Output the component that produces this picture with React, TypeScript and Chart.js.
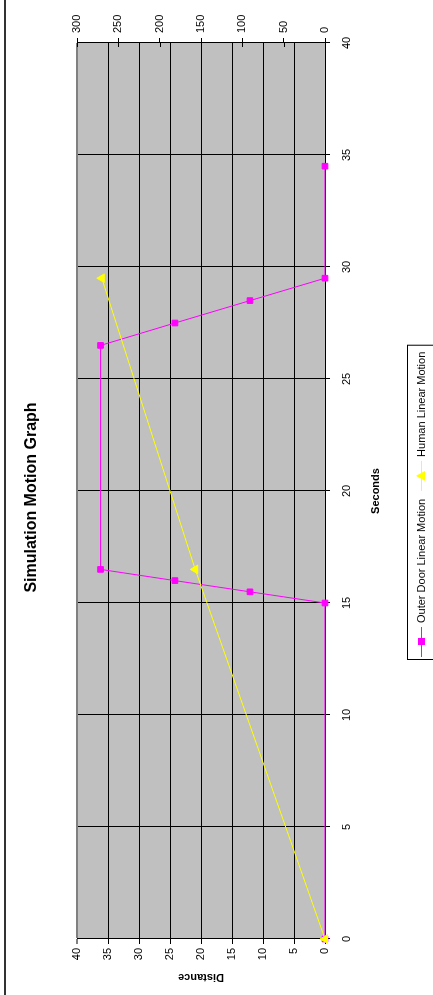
import React, { useEffect, useRef } from "react";
import { Chart, registerables } from "chart.js";

Chart.register(...registerables);

const W = 995;
const H = 433;

const TITLE = "Simulation Motion Graph";
const X_TITLE = "Seconds";
const Y_TITLE = "Distance";
const DOOR_LABEL = "Outer Door Linear Motion";
const HUMAN_LABEL = "Human Linear Motion";

const doorSeconds = [0, 15, 15.5, 16, 16.5, 26.5, 27.5, 28.5, 29.5, 34.5];
const doorDistance = [0, 0, 12.1, 24.2, 36.2, 36.2, 24.2, 12.1, 0, 0];
const humanSeconds = [0, 16.5, 29.5];
const humanDistance = [0, 157, 270];

const secondsTicks = [0, 5, 10, 15, 20, 25, 30, 35, 40];
const distanceTicks = [0, 5, 10, 15, 20, 25, 30, 35, 40];
const secondaryTicks = [0, 50, 100, 150, 200, 250, 300];

const FONT = "'Liberation Sans', Arial, sans-serif";
const DOOR_COLOR = "#FF00FF";
const HUMAN_COLOR = "#FFFF00";

const decor = {
  id: "decor",
  beforeDraw(chart: any) {
    const { ctx, chartArea: a } = chart;
    ctx.save();
    ctx.fillStyle = "#ffffff";
    ctx.fillRect(0, 0, W, H);
    ctx.fillStyle = "#C0C0C0";
    ctx.fillRect(a.left, a.top, a.right - a.left, a.bottom - a.top);
    ctx.restore();
  },
  beforeDatasetsDraw(chart: any) {
    // inner half of the crossing tick marks on the secondary axis
    const { ctx } = chart;
    const s = chart.scales.y2;
    ctx.save();
    ctx.strokeStyle = "#000";
    ctx.lineWidth = 1;
    ctx.beginPath();
    s.ticks.forEach((t: any) => {
      const y = Math.round(s.getPixelForValue(t.value)) + 0.5;
      ctx.moveTo(s.left - 4, y);
      ctx.lineTo(s.left, y);
    });
    ctx.stroke();
    ctx.restore();
  },
  afterDraw(chart: any) {
    const { ctx } = chart;
    ctx.save();
    // outer border
    ctx.strokeStyle = "#333333";
    ctx.lineWidth = 2;
    ctx.beginPath();
    ctx.moveTo(0, 5);
    ctx.lineTo(W, 5);
    ctx.stroke();

    // title
    ctx.fillStyle = "#000";
    ctx.font = `bold 16px ${FONT}`;
    ctx.textAlign = "center";
    ctx.textBaseline = "middle";
    ctx.fillText(TITLE, W / 2, 32);

    // legend
    ctx.font = `11px ${FONT}`;
    ctx.textAlign = "left";
    const lx = 335;
    const ly = 407;
    const cy = 421;
    let x = lx + 3;
    ctx.strokeStyle = DOOR_COLOR;
    ctx.lineWidth = 1;
    ctx.beginPath();
    ctx.moveTo(x, cy + 0.5);
    ctx.lineTo(x + 30, cy + 0.5);
    ctx.stroke();
    ctx.fillStyle = DOOR_COLOR;
    ctx.fillRect(x + 12, cy - 3, 7, 7);
    x += 34;
    ctx.fillStyle = "#000";
    ctx.fillText(DOOR_LABEL, x, cy + 1);
    x += ctx.measureText(DOOR_LABEL).width + 8;
    ctx.strokeStyle = HUMAN_COLOR;
    ctx.beginPath();
    ctx.moveTo(x, cy + 0.5);
    ctx.lineTo(x + 30, cy + 0.5);
    ctx.stroke();
    ctx.fillStyle = HUMAN_COLOR;
    ctx.beginPath();
    ctx.moveTo(x + 15, cy - 5);
    ctx.lineTo(x + 20, cy + 4);
    ctx.lineTo(x + 10, cy + 4);
    ctx.closePath();
    ctx.fill();
    x += 34;
    ctx.fillStyle = "#000";
    ctx.fillText(HUMAN_LABEL, x, cy + 1);
    x += ctx.measureText(HUMAN_LABEL).width + 6;
    ctx.strokeStyle = "#000";
    ctx.lineWidth = 1;
    ctx.strokeRect(lx + 0.5, ly + 0.5, x - lx, 40);
    ctx.restore();
  },
};

export default function App() {
  const ref = useRef<HTMLCanvasElement>(null);

  useEffect(() => {
    Chart.defaults.font.family = FONT;
    const chart = new Chart(ref.current as HTMLCanvasElement, {
      type: "line",
      data: {
        datasets: [
          {
            label: DOOR_LABEL,
            data: doorSeconds.map((s, i) => ({ x: s, y: doorDistance[i] })),
            borderColor: DOOR_COLOR,
            backgroundColor: DOOR_COLOR,
            borderWidth: 1,
            pointStyle: "rect",
            pointRadius: 4,
            pointBorderWidth: 1,
            tension: 0,
            yAxisID: "y",
            order: 1,
            clip: false,
          } as any,
          {
            label: HUMAN_LABEL,
            data: humanSeconds.map((s, i) => ({ x: s, y: humanDistance[i] })),
            borderColor: HUMAN_COLOR,
            backgroundColor: HUMAN_COLOR,
            borderWidth: 1,
            pointStyle: "triangle",
            pointRadius: 5,
            pointBorderWidth: 1,
            tension: 0,
            yAxisID: "y2",
            order: 0,
            clip: false,
          } as any,
        ],
      },
      options: {
        responsive: false,
        devicePixelRatio: 1,
        animation: false,
        events: [],
        layout: { padding: { top: 77, bottom: 48, left: 0, right: 0 } },
        plugins: {
          legend: { display: false },
          title: { display: false },
          tooltip: { enabled: false },
        },
        scales: {
          x: {
            type: "linear",
            position: "bottom",
            min: 0,
            max: 40,
            afterBuildTicks: (s: any) => {
              s.ticks = secondsTicks.map((value) => ({ value }));
            },
            afterFit: (s: any) => {
              s.height = 60;
            },
            ticks: {
              color: "#000",
              font: { size: 11 },
              padding: 10,
              maxRotation: 0,
              autoSkip: false,
            },
            grid: { color: "#000", lineWidth: 1, tickLength: 5 },
            border: { color: "#000", width: 1 },
            title: {
              display: true,
              text: X_TITLE,
              color: "#000",
              font: { size: 11, weight: "bold" },
              padding: { top: 0, bottom: 2 },
            },
          },
          y: {
            type: "linear",
            position: "left",
            min: 0,
            max: 40,
            afterBuildTicks: (s: any) => {
              s.ticks = distanceTicks.map((value) => ({ value }));
            },
            afterFit: (s: any) => {
              s.width = 56;
            },
            ticks: { color: "#000", font: { size: 11 }, padding: 4 },
            grid: {
              color: (c: any) => (c.tick && c.tick.value === 40 ? "#808080" : "#000"),
              lineWidth: (c: any) => (c.tick && c.tick.value === 40 ? 2 : 1),
              tickLength: 5,
            },
            border: { color: "#000", width: 1 },
            title: {
              display: true,
              text: Y_TITLE,
              color: "#000",
              font: { size: 11, weight: "bold" },
              padding: { top: 11, bottom: 0 },
            },
          },
          y2: {
            type: "linear",
            position: "right",
            min: 0,
            max: 300,
            afterBuildTicks: (s: any) => {
              s.ticks = secondaryTicks.map((value) => ({ value }));
            },
            afterFit: (s: any) => {
              s.width = 43;
            },
            ticks: { color: "#000", font: { size: 11 }, padding: 5 },
            grid: { drawOnChartArea: false, color: "#000", tickLength: 5 },
            border: { color: "#000", width: 1 },
          },
        },
      } as any,
      plugins: [decor],
    });
    return () => chart.destroy();
  }, []);

  return (
    <div
      style={{
        position: "fixed",
        left: 0,
        top: 0,
        width: 433,
        height: 995,
        overflow: "hidden",
        background: "#fff",
      }}
    >
      <div
        style={{
          position: "absolute",
          left: 0,
          top: 0,
          width: W,
          height: H,
          transformOrigin: "0 0",
          transform: `rotate(-90deg) translateX(-${W}px)`,
        }}
      >
        <canvas ref={ref} width={W} height={H} style={{ display: "block", width: W, height: H }} />
      </div>
    </div>
  );
}
